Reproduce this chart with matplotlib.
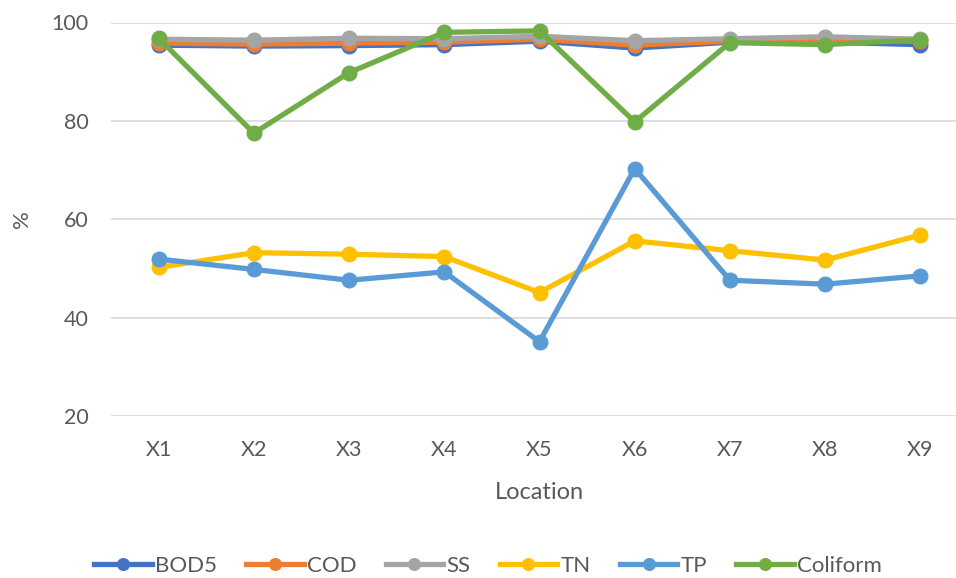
import matplotlib.pyplot as plt

locations = ["X1", "X2", "X3", "X4", "X5", "X6", "X7", "X8", "X9"]
bod5 = [95.4, 95.2, 95.3, 95.5, 96.2, 94.8, 96.0, 96.0, 95.5]
cod = [95.8, 95.6, 95.8, 96.0, 96.6, 95.4, 96.2, 96.3, 96.2]
ss = [96.6, 96.4, 96.8, 96.7, 97.2, 96.3, 96.7, 97.1, 96.6]
tn = [50.2, 53.2, 52.9, 52.4, 45.1, 55.6, 53.6, 51.7, 56.8]
tp = [51.9, 49.8, 47.6, 49.3, 35.1, 70.3, 47.6, 46.8, 48.5]
coliform = [96.8, 77.5, 89.8, 98.0, 98.3, 79.8, 95.9, 95.5, 96.5]

series = [("BOD5", bod5, "#4472C4"), ("COD", cod, "#ED7D31"), ("SS", ss, "#A5A5A5"),
          ("TN", tn, "#FFC000"), ("TP", tp, "#5B9BD5"), ("Coliform", coliform, "#70AD47")]

plt.rcParams['font.family'] = ['Lato', 'DejaVu Sans']
fig = plt.figure(figsize=(9.56, 5.78), dpi=100)
ax = fig.add_axes([111/956, 1-416/578, (968-111)/956, (416-22.5)/578])

x = list(range(len(locations)))
for name, vals, col in series:
    ax.plot(x, vals, color=col, lw=3.8, marker='o', ms=10.5, label=name, clip_on=False)

ax.set_xlim(-0.5, 8.5)
ax.set_ylim(20, 100)
ax.set_yticks([20, 40, 60, 80, 100])
ax.set_xticks(x)
ax.set_xticklabels(locations)
ax.grid(axis='y', color='#D9D9D9', lw=1.2)
ax.set_axisbelow(True)
for s in ax.spines.values():
    s.set_visible(False)
ax.tick_params(length=0, labelsize=15.5, labelcolor='#595959')
ax.tick_params(axis='y', pad=16)
ax.tick_params(axis='x', pad=17)
ax.set_xlabel("Location", fontsize=17, color='#595959', labelpad=16)
ax.set_ylabel("%", fontsize=16, color='#595959', labelpad=14)

fig.legend(loc='center', bbox_to_anchor=(488/956, 1-566/578), ncol=6, frameon=False,
           fontsize=16, labelcolor='#595959', handlelength=2.6, handletextpad=0.15,
           columnspacing=1.3, borderaxespad=0, markerscale=0.8)

fig.savefig("out.png", dpi=100)
